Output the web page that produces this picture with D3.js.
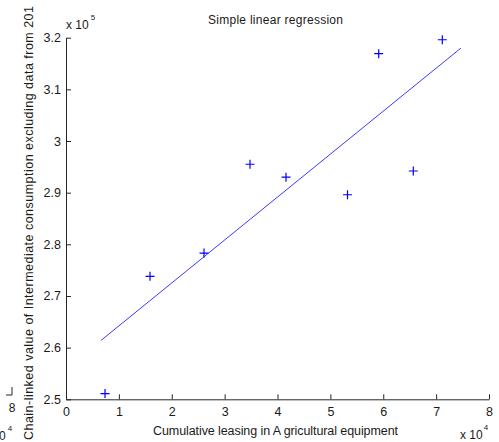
<!DOCTYPE html>
<html>
<head>
<meta charset="utf-8">
<script src="https://cdn.jsdelivr.net/npm/d3@7"></script>
<style>
  html, body { margin: 0; padding: 0; background: #fff; }
  svg { display: block; font-family: "Liberation Sans", Arial, sans-serif; }
</style>
</head>
<body>
<svg id="chart" width="499" height="442"></svg>
<script>
// ---- data ----
const leasing = [7380, 15890, 26100, 34800, 41610, 53240, 59140, 65680, 71170];
const consumption = [251100, 273800, 278300, 295500, 293000, 289600, 316900, 294200, 319600];
const fitX = [6620, 74700];
const fitY = [261400, 318000];
const xTicks = [0, 10000, 20000, 30000, 40000, 50000, 60000, 70000, 80000];
const yTicks = [250000, 260000, 270000, 280000, 290000, 300000, 310000, 320000];
const titleText = "Simple linear regression";
const xLabel = "Cumulative leasing in A gricultural  equipment";
const yLabel = "Chain-linked value of Intermediate consumption excluding data from 201";

const svg = d3.select("#chart");
const textColor = "#1a1a1a";
const markColor = "#0000ff";

const x = d3.scaleLinear().domain([0, 80000]).range([66, 489]);
const y = d3.scaleLinear().domain([250000, 320000]).range([399.3, 37.7]);

// axes
const xAxis = d3.axisBottom(x).tickValues(xTicks)
  .tickFormat(d => String(d / 10000)).tickSizeInner(-5).tickSizeOuter(0).tickPadding(8);
const yAxis = d3.axisLeft(y).tickValues(yTicks)
  .tickFormat(d => String(+(d / 100000).toFixed(1))).tickSizeInner(-5).tickSizeOuter(0).tickPadding(5);

const gx = svg.append("g").attr("transform", `translate(0,${y.range()[0]})`).call(xAxis);
const gy = svg.append("g").attr("transform", `translate(${x.range()[0]},0)`).call(yAxis);
[gx, gy].forEach(g => {
  g.selectAll("path, line").attr("stroke", "#262626").attr("stroke-width", 1);
  g.selectAll("text").attr("fill", textColor).style("font-size", "12.5px")
    .style("font-family", "'Liberation Sans', Arial, sans-serif");
});

// regression line
svg.append("line")
  .attr("x1", x(fitX[0])).attr("y1", y(fitY[0]))
  .attr("x2", x(fitX[1])).attr("y2", y(fitY[1]))
  .attr("stroke", "#3a3aff").attr("stroke-width", 1);

// + markers
const pts = leasing.map((v, i) => [v, consumption[i]]);
const m = svg.append("g");
pts.forEach(([a, b]) => {
  const cx = x(a), cy = y(b);
  m.append("path")
    .attr("d", `M${cx - 4.5},${cy}H${cx + 4.5}M${cx},${cy - 4.5}V${cy + 4.5}`)
    .attr("stroke", markColor).attr("stroke-width", 1.2).attr("fill", "none");
});

// title
svg.append("text").attr("x", 208).attr("y", 24)
  .attr("textLength", 135).attr("lengthAdjust", "spacing")
  .attr("fill", textColor).style("font-size", "12px").text(titleText);

// x label
svg.append("text").attr("x", 153).attr("y", 435)
  .attr("textLength", 245).attr("lengthAdjust", "spacing")
  .attr("fill", textColor).style("font-size", "12.5px").text(xLabel);

// y label (runs to the page top, as in the reference)
svg.append("text").attr("transform", "translate(33,440) rotate(-90)")
  .attr("textLength", 434).attr("lengthAdjust", "spacing")
  .attr("fill", textColor).style("font-size", "12.5px").text(yLabel);

// exponent labels
const e5 = svg.append("text").attr("x", 66).attr("y", 29).attr("fill", textColor).style("font-size", "12px");
e5.append("tspan").text("x 10");
e5.append("tspan").attr("dy", -9).attr("dx", 2).style("font-size", "8px").text("5");

const e4 = svg.append("text").attr("x", 460).attr("y", 439).attr("fill", textColor).style("font-size", "12px");
e4.append("tspan").text("x  10");
e4.append("tspan").attr("dy", -9).attr("dx", 1).style("font-size", "8px").text("4");

// stray remnants at lower left
svg.append("path").attr("d", "M12,387V395H6").attr("stroke", "#262626").attr("fill", "none");
svg.append("text").attr("x", 12).attr("y", 412).attr("text-anchor", "middle")
  .attr("fill", textColor).style("font-size", "12px").text("8");
const r4 = svg.append("text").attr("x", -1).attr("y", 440).attr("fill", textColor).style("font-size", "12px");
r4.append("tspan").text("0");
r4.append("tspan").attr("dy", -9).attr("dx", 2).style("font-size", "8px").text("4");
</script>
</body>
</html>
